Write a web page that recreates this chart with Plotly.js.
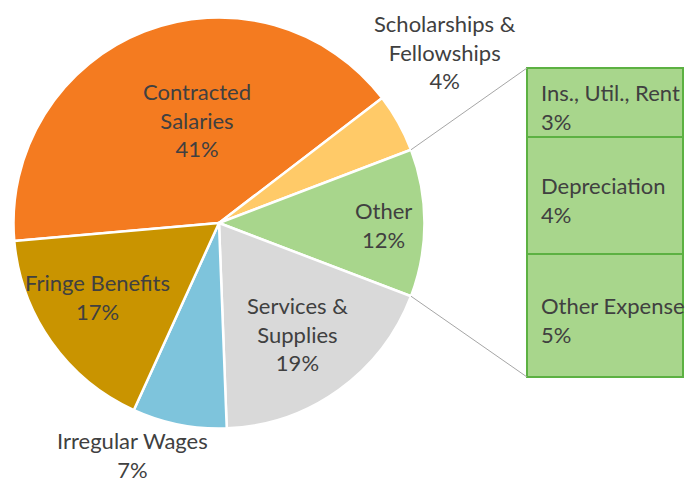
<!DOCTYPE html>
<html>
<head>
<meta charset="utf-8">
<script src="https://cdn.plot.ly/plotly-3.0.1.min.js"></script>
<style>html,body{margin:0;padding:0;background:#fff;}#chart{width:685px;height:485px;}</style>
</head>
<body>
<div id="chart"></div>
<script>
// ---- data ----
var pieLabels = ['Contracted Salaries', 'Scholarships & Fellowships', 'Other', 'Services & Supplies', 'Irregular Wages', 'Fringe Benefits'];
var pieValues = [41.0, 4.6, 11.6, 18.6, 7.4, 16.8];
var piePct = ['41%', '4%', '12%', '19%', '7%', '17%'];
var pieText = ['Contracted<br>Salaries', 'Scholarships &<br>Fellowships', 'Other', 'Services &<br>Supplies', 'Irregular Wages', 'Fringe Benefits'];
var pieColors = ['#f47b20', '#ffca68', '#a8d68c', '#d9d9d9', '#7ec4dc', '#c99400'];

var subLabels = ['Ins., Util., Rent', 'Depreciation', 'Other Expense']; // top to bottom
var subValues = [2.6, 4.4, 4.6];
var subPct = ['3%', '4%', '5%'];

// ---- geometry (layout) ----
var W = 685, H = 485;
var cx = 219, cy = 223, R = 205.5;
var barL = 527, barR = 683, barT = 68, barB = 377, pad = 1.5;
var otherIdx = 2;

var total = pieValues.reduce(function(a, b){return a + b;}, 0);
var before = 0;
for (var i = 0; i < otherIdx; i++) before += pieValues[i];
var rotation = 90 - 360 * (before + pieValues[otherIdx] / 2) / total;
while (rotation < -180) rotation += 360;

var subTotal = subValues.reduce(function(a, b){return a + b;}, 0);
var yPad = subTotal * pad / (barB - barT);
var xPad = pad / (barR - barL);

var pie = {
  type: 'pie',
  labels: pieLabels,
  values: pieValues,
  sort: false,
  direction: 'clockwise',
  rotation: rotation,
  textinfo: 'none',
  hoverinfo: 'label+percent',
  marker: {colors: pieColors, line: {color: '#ffffff', width: 2.5}},
  domain: {x: [(cx - R) / W, (cx + R) / W], y: [(H - cy - R) / H, (H - cy + R) / H]},
  showlegend: false
};

var traces = [pie];
// stacked bar, bottom segment first
for (var k = subLabels.length - 1; k >= 0; k--) {
  traces.push({
    type: 'bar',
    x: [0.5],
    y: [subValues[k]],
    width: [1],
    name: subLabels[k],
    xaxis: 'x2', yaxis: 'y2',
    marker: {color: '#a8d68c', line: {color: '#5cb142', width: 2}},
    hoverinfo: 'name+y',
    showlegend: false
  });
}

var font = 'Lato, "Open Sans", sans-serif';
var tc = '#404040';
var fs = 22;
var annotations = [];
// pie label positions (paper pixels)
var labelPos = [[197, 120], [445, 52], [383, 225], [297, 334], [132, 455], [98, 297]];
for (var j = 0; j < pieLabels.length; j++) {
  annotations.push({
    xref: 'paper', yref: 'paper',
    x: labelPos[j][0] / W, y: 1 - labelPos[j][1] / H,
    xanchor: 'center', yanchor: 'middle',
    text: pieText[j] + '<br>' + piePct[j],
    showarrow: false,
    font: {family: font, size: fs, color: tc},
    align: 'center'
  });
}
// bar labels
var cum = subTotal;
for (var m = 0; m < subLabels.length; m++) {
  var mid = cum - subValues[m] / 2;
  cum -= subValues[m];
  annotations.push({
    xref: 'x2', yref: 'y2',
    x: 0, y: mid,
    xanchor: 'left', yanchor: 'middle',
    xshift: 12, yshift: -4,
    text: subLabels[m] + '<br>' + subPct[m],
    showarrow: false,
    font: {family: font, size: fs, color: tc},
    align: 'left'
  });
}

// connector lines from Other slice edges to bar corners
function edgePoint(angleDeg) {
  var a = (angleDeg + rotation) * Math.PI / 180;
  return [cx + R * Math.sin(a), cy - R * Math.cos(a)];
}
var a0 = 360 * before / total;
var a1 = 360 * (before + pieValues[otherIdx]) / total;
var p0 = edgePoint(a0), p1 = edgePoint(a1);
var shapes = [
  {type: 'line', xref: 'paper', yref: 'paper', x0: p0[0] / W, y0: 1 - p0[1] / H, x1: barL / W, y1: 1 - barT / H, line: {color: '#a6a6a6', width: 1}},
  {type: 'line', xref: 'paper', yref: 'paper', x0: p1[0] / W, y0: 1 - p1[1] / H, x1: barL / W, y1: 1 - barB / H, line: {color: '#a6a6a6', width: 1}}
];

var layout = {
  width: W, height: H,
  margin: {l: 0, r: 0, t: 0, b: 0},
  paper_bgcolor: '#ffffff',
  plot_bgcolor: 'rgba(0,0,0,0)',
  barmode: 'stack',
  bargap: 0,
  showlegend: false,
  font: {family: font, color: tc},
  xaxis2: {domain: [(barL - pad) / W, Math.min(1, (barR + pad) / W)], range: [-xPad, 1 + xPad], anchor: 'y2', visible: false, fixedrange: true},
  yaxis2: {domain: [(H - barB - pad) / H, (H - barT + pad) / H], range: [-yPad, subTotal + yPad], anchor: 'x2', visible: false, fixedrange: true},
  annotations: annotations,
  shapes: shapes
};

Plotly.newPlot('chart', traces, layout, {displayModeBar: false, staticPlot: true});
</script>
</body>
</html>
